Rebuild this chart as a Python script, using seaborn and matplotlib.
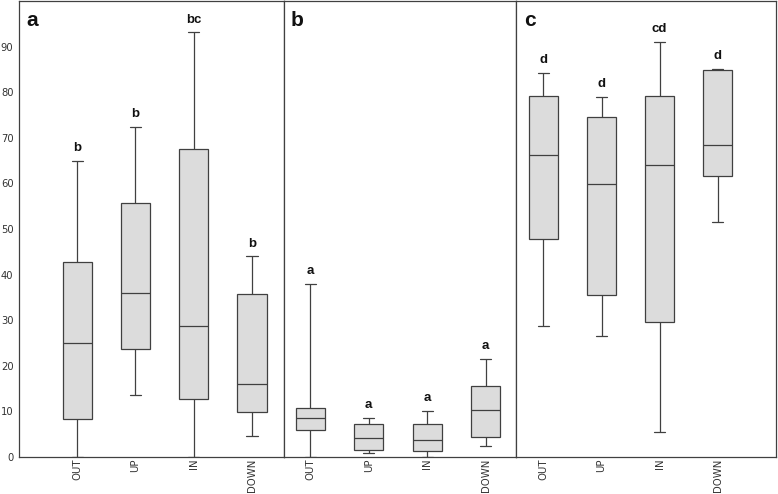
import numpy as np
import pandas as pd
import matplotlib
matplotlib.use('Agg')
import matplotlib.pyplot as plt
import seaborn as sns

# 各面板的站点顺序
sites = ['OUT', 'UP', 'IN', 'DOWN']
panels = ['a', 'b', 'c']

# 每个站点的五数概括: [最小值, 下四分位, 中位数, 上四分位, 最大值]
a_stats = [[0.0, 8.3, 25.1, 42.8, 65.0],
           [13.5, 23.6, 36.0, 55.7, 72.4],
           [0.0, 12.7, 28.8, 67.5, 93.1],
           [4.5, 9.8, 16.1, 35.7, 44.0]]
b_stats = [[0.0, 6.0, 8.5, 10.7, 38.0],
           [0.8, 1.6, 4.2, 7.3, 8.6],
           [0.0, 1.3, 3.7, 7.2, 10.1],
           [2.5, 4.3, 10.2, 15.5, 21.5]]
c_stats = [[28.8, 47.7, 66.3, 79.2, 84.3],
           [26.6, 35.5, 59.9, 74.6, 79.0],
           [5.4, 29.6, 64.1, 79.2, 91.1],
           [51.6, 61.7, 68.4, 84.9, 85.1]]

# 显著性字母
a_letters = ['b', 'b', 'bc', 'b']
b_letters = ['a', 'a', 'a', 'a']
c_letters = ['d', 'd', 'cd', 'd']

yticks = [0, 10, 20, 30, 40, 50, 60, 70, 80, 90]

all_stats = [a_stats, b_stats, c_stats]
all_letters = [a_letters, b_letters, c_letters]

# 转成长表, 五个值正好给出箱线图的五数
rows = []
for p, stats in zip(panels, all_stats):
    for s, vals in zip(sites, stats):
        for v in vals:
            rows.append({'panel': p, 'site': s, 'value': v})
df = pd.DataFrame(rows)

sns.set_style('white')
plt.rcParams['font.family'] = ['DejaVu Sans']

edge = '#404040'
fig, axes = plt.subplots(1, 3, figsize=(7.78, 4.94), dpi=100, sharey=True,
                         gridspec_kw={'width_ratios': [265, 232, 260], 'wspace': 0})
fig.subplots_adjust(left=19 / 778, right=776 / 778, top=1 - 1 / 494, bottom=1 - 457 / 494)

xlims = [(-1.0, 3.55), (-0.45, 3.52), (-0.47, 4.0)]

for k, ax in enumerate(axes):
    sub = df[df['panel'] == panels[k]]
    sns.boxplot(data=sub, x='site', y='value', order=sites, ax=ax,
                whis=(0, 100), width=0.5, color='#dcdcdc', linecolor=edge,
                linewidth=0.9, showfliers=False, saturation=1, capwidths=0.19)
    ax.set_xlim(*xlims[k])
    ax.set_ylim(0, 100)
    ax.set_xlabel('')
    ax.set_ylabel('')
    ax.set_xticks(range(len(sites)))
    ax.set_xticklabels(sites, rotation=90, fontsize=7.3, color='#333333')
    ax.tick_params(axis='x', length=0, pad=1)
    for sp in ax.spines.values():
        sp.set_color(edge)
        sp.set_linewidth(0.9)
    # 字母标注
    for i, (vals, lab) in enumerate(zip(all_stats[k], all_letters[k])):
        ax.text(i, vals[4] + 2.8, lab, ha='center', va='center',
                fontsize=9.5, fontweight='bold', family='Liberation Sans', color='#111111')
    ax.text(0.05 if k == 0 else 0.055, 0.958, panels[k], transform=ax.transAxes,
            ha='center', va='center', fontsize=15, fontweight='bold',
            family='Liberation Sans', color='#111111')

axes[0].set_yticks(yticks)
axes[0].tick_params(axis='y', length=3, width=0.8, color=edge, labelsize=7.2,
                    labelcolor='#333333', pad=1)
for ax in axes[1:]:
    ax.tick_params(axis='y', length=0, labelleft=False)

plt.savefig('out.png', dpi=100)
